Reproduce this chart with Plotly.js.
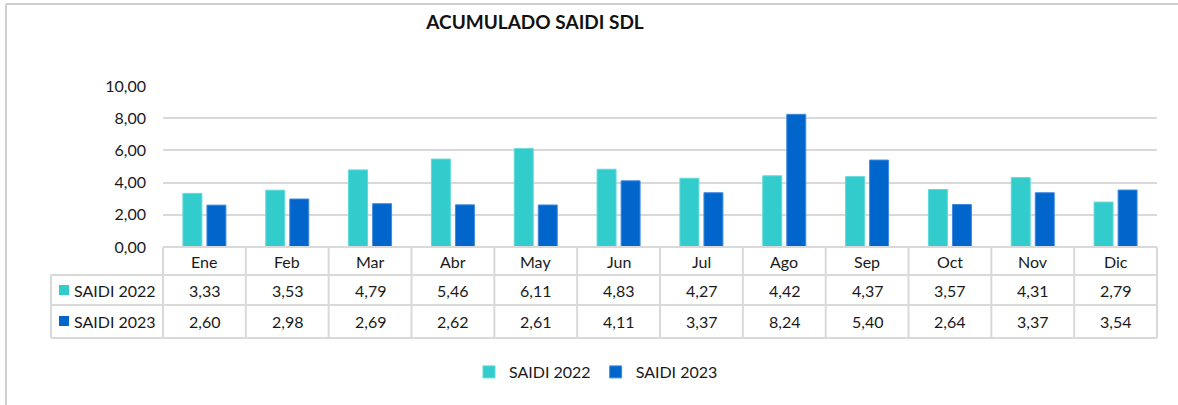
<!DOCTYPE html>
<html>
<head>
<meta charset="utf-8">
<script src="https://cdn.plot.ly/plotly-3.0.1.min.js"></script>
<style>
html,body{margin:0;padding:0;background:#fff;}
#chart{width:1178px;height:405px;}
</style>
</head>
<body>
<div id="chart"></div>
<script>
const months = ["Ene","Feb","Mar","Abr","May","Jun","Jul","Ago","Sep","Oct","Nov","Dic"];
const saidi2022 = [3.33,3.53,4.79,5.46,6.11,4.83,4.27,4.42,4.37,3.57,4.31,2.79];
const saidi2023 = [2.60,2.98,2.69,2.62,2.61,4.11,3.37,8.24,5.40,2.64,3.37,3.54];
const seriesNames = ["SAIDI 2022","SAIDI 2023"];
const colors = ["#33CCCC","#0066CC"];
const titleText = "ACUMULADO SAIDI SDL";

const FONT = "Lato, 'Open Sans', sans-serif";
const W = 1178, H = 405;
const L = 163, R = 1157, T = 86, B = 247;
const pxY = p => (B - p) / (B - T);
const pxX = p => (p - L) / (R - L);
const fmt = v => v.toFixed(2).replace('.', ',');
const gridCol = "#d9d9d9";

const traces = [
  {type:'bar', name:seriesNames[0], x:months, y:saidi2022, marker:{color:colors[0], line:{color:'#5fd9d9', width:1}}, hoverinfo:'x+y'},
  {type:'bar', name:seriesNames[1], x:months, y:saidi2023, marker:{color:colors[1], line:{color:'#3f8ae0', width:1}}, hoverinfo:'x+y'}
];

const shapes = [];
const annotations = [];
const rowHeaderTop = pxY(247), rowHeaderBot = pxY(275), row1Bot = pxY(305), row2Bot = pxY(338);
const leftX = pxX(51);
const line = (x0,y0,x1,y1) => shapes.push({type:'line', xref:'paper', yref:'paper', x0, y0, x1, y1, line:{color:gridCol, width:2}, layer:'above'});
line(0, rowHeaderTop, 1, rowHeaderTop);
line(leftX, rowHeaderBot, 1, rowHeaderBot);
line(leftX, row1Bot, 1, row1Bot);
line(leftX, row2Bot, 1, row2Bot);
for (let k = 0; k <= months.length; k++) {
  line(k / months.length, rowHeaderTop, k / months.length, row2Bot);
}
line(leftX, rowHeaderBot, leftX, row2Bot);
shapes.push({type:'line', xref:'paper', yref:'paper', x0:pxX(6), x1:pxX(W), y0:pxY(4), y1:pxY(4), line:{color:'#d0d0d0', width:2}});
shapes.push({type:'line', xref:'paper', yref:'paper', x0:pxX(6), x1:pxX(6), y0:pxY(4), y1:pxY(H), line:{color:'#d0d0d0', width:2}});

const tf = {family:FONT, size:16, color:'#1a1a1a'};
const hy = pxY(261), r1y = pxY(290), r2y = pxY(321);
months.forEach((m, i) => {
  annotations.push({xref:'x', yref:'paper', x:m, y:hy, text:m, showarrow:false, font:tf, yanchor:'middle'});
  annotations.push({xref:'x', yref:'paper', x:m, y:r1y, text:fmt(saidi2022[i]), showarrow:false, font:tf, yanchor:'middle'});
  annotations.push({xref:'x', yref:'paper', x:m, y:r2y, text:fmt(saidi2023[i]), showarrow:false, font:tf, yanchor:'middle'});
});
[[r1y, 290],[r2y, 321]].forEach((r, j) => {
  shapes.push({type:'rect', xref:'paper', yref:'paper', x0:pxX(59), x1:pxX(69), y0:pxY(r[1]-5), y1:pxY(r[1]+5), fillcolor:colors[j], line:{width:0}});
  annotations.push({xref:'paper', yref:'paper', x:pxX(72), y:r[0], xanchor:'left', yanchor:'middle', text:seriesNames[j], showarrow:false, font:tf});
});

const layout = {
  width:W, height:H,
  margin:{l:L, r:W-R, t:T, b:H-B},
  paper_bgcolor:'#fff', plot_bgcolor:'#fff',
  separators:',.',
  font:{family:FONT, color:'#1a1a1a'},
  title:{text:'<b>'+titleText+'</b>', xref:'container', yref:'container', x:535/W, y:1-22/H, xanchor:'center', yanchor:'middle', font:{family:FONT, size:19, color:'#111'}},
  barmode:'group', bargap:0.42, bargroupgap:0.21,
  xaxis:{type:'category', range:[-0.5, months.length-0.5], showticklabels:false, showgrid:false, zeroline:false, showline:false, ticks:'', fixedrange:true},
  yaxis:{range:[0,10], dtick:2, tickformat:'.2f', showgrid:true, gridcolor:gridCol, gridwidth:2, zeroline:false, showline:false, ticks:'', ticklabelstandoff:16, tickfont:{family:FONT, size:16, color:'#1a1a1a'}, fixedrange:true},
  showlegend:true,
  legend:{orientation:'h', xref:'paper', yref:'paper', x:pxX(596), y:pxY(372), xanchor:'center', yanchor:'middle', font:{family:FONT, size:16, color:'#1a1a1a'}, itemwidth:30, tracegroupgap:0},
  shapes, annotations
};

Plotly.newPlot('chart', traces, layout, {displayModeBar:false, staticPlot:true});
</script>
</body>
</html>
